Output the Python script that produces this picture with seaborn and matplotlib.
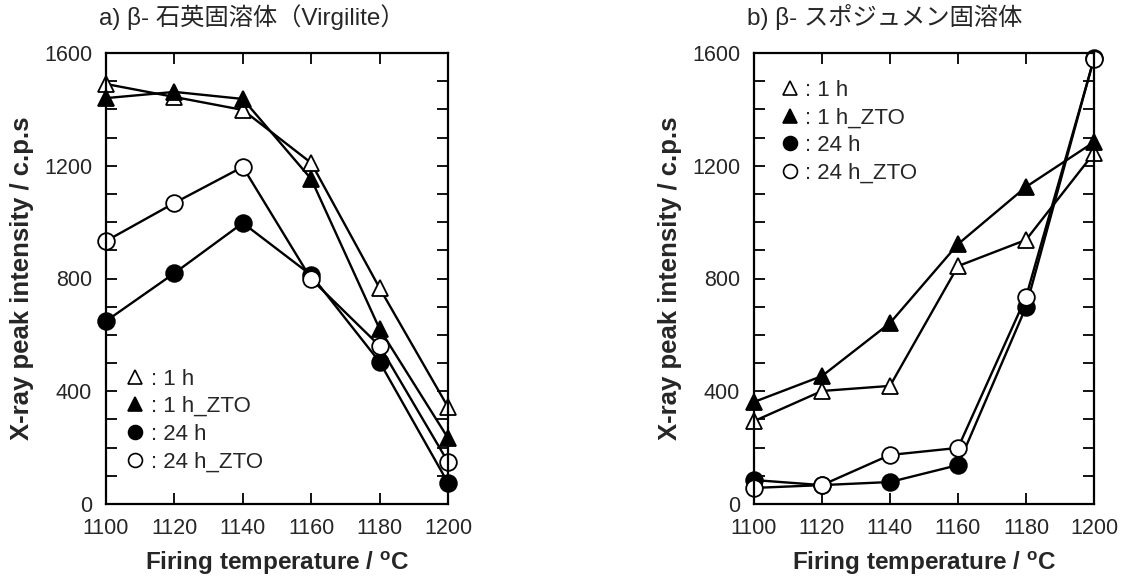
import numpy as np
import pandas as pd
import matplotlib
matplotlib.use("Agg")
import matplotlib.pyplot as plt
import seaborn as sns
from matplotlib.ticker import MultipleLocator
from matplotlib.lines import Line2D

sns.set_style("ticks")
plt.rcParams['font.family'] = ['Liberation Sans', 'Noto Sans CJK JP', 'DejaVu Sans']

temps = [1100, 1120, 1140, 1160, 1180, 1200]

# a) beta-quartz solid solution (Virgilite)
a_1h = [1490, 1444, 1398, 1210, 766, 344]
a_1h_zto = [1440, 1462, 1437, 1153, 621, 234]
a_24h = [649, 819, 997, 812, 504, 75]
a_24h_zto = [933, 1068, 1196, 798, 561, 149]

# b) beta-spodumene solid solution
b_1h = [294, 401, 419, 844, 937, 1245]
b_1h_zto = [362, 454, 642, 922, 1125, 1284]
b_24h = [85, 67, 78, 138, 699, 1582]
b_24h_zto = [57, 67, 174, 199, 734, 1579]

labels = [": 1 h", ": 1 h_ZTO", ": 24 h", ": 24 h_ZTO"]
titles = ["a) β- 石英固溶体（Virgilite）", "b) β- スポジュメン固溶体"]
xticks = [1100, 1120, 1140, 1160, 1180, 1200]
yticks = [0, 400, 800, 1200, 1600]

styles = [
    dict(marker="^", markerfacecolor="white"),
    dict(marker="^", markerfacecolor="black"),
    dict(marker="o", markerfacecolor="black"),
    dict(marker="o", markerfacecolor="white"),
]

fig = plt.figure(figsize=(11.22, 5.88), dpi=100)
ax1 = fig.add_axes([106/1122, 84/588, 342/1122, 451/588])
ax2 = fig.add_axes([754/1122, 84/588, 340/1122, 451/588])

panels = [
    (ax1, [a_1h, a_1h_zto, a_24h, a_24h_zto], (0.02, 0.33)),
    (ax2, [b_1h, b_1h_zto, b_24h, b_24h_zto], (0.04, 0.97)),
]

for (ax, series, legpos), title in zip(panels, titles):
    for vals, st, lab in zip(series, styles, labels):
        df = pd.DataFrame({"T": temps, "I": vals})
        sns.lineplot(data=df, x="T", y="I", ax=ax, color="black", lw=1.7,
                     marker=st["marker"], markersize=12,
                     markerfacecolor=st["markerfacecolor"],
                     markeredgecolor="black", markeredgewidth=1.3,
                     clip_on=False, legend=False)
    ax.set_xlim(1100, 1200)
    ax.set_ylim(0, 1600)
    ax.set_xticks(xticks)
    ax.set_yticks(yticks)
    ax.yaxis.set_minor_locator(MultipleLocator(100))
    ax.tick_params(axis="both", which="both", direction="in", top=True, right=True,
                   labelsize=15.5, width=1.3, color="black", pad=10)
    ax.tick_params(which="major", length=8)
    ax.tick_params(which="minor", length=8)
    for sp in ax.spines.values():
        sp.set_linewidth(1.6)
        sp.set_color("black")
    ax.set_xlabel("Firing temperature / $\\mathregular{^{o}}$C", fontsize=17.5, fontweight="bold", labelpad=8)
    ax.set_ylabel("X-ray peak intensity / c.p.s", fontsize=18.5, fontweight="bold", labelpad=7)
    ax.set_title(title, fontsize=17.5, loc="left", x=-0.02, pad=20)
    handles = [Line2D([], [], linestyle="none", marker=st["marker"], markersize=10,
                      markerfacecolor=st["markerfacecolor"], markeredgecolor="black",
                      markeredgewidth=1.2) for st in styles]
    ax.legend(handles, labels, loc="upper left", bbox_to_anchor=legpos, frameon=False,
              fontsize=16, handlelength=0.8, handletextpad=0.3, labelspacing=0.3,
              borderaxespad=0.2)

fig.savefig("out.png", dpi=100)
